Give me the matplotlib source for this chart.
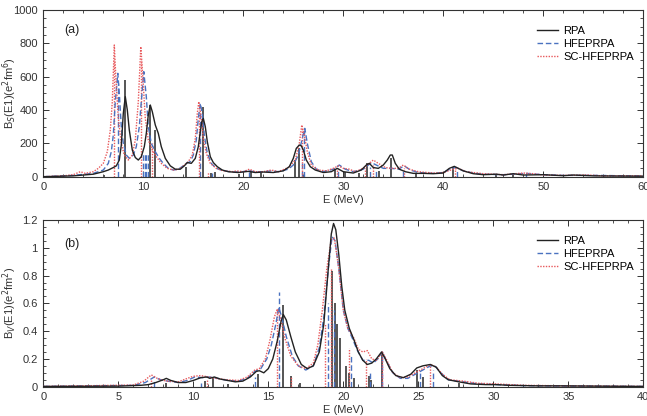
import matplotlib
matplotlib.use("Agg")
import matplotlib.pyplot as plt
from matplotlib.ticker import MultipleLocator, FuncFormatter

plt.rcParams['font.family'] = ['Liberation Sans', 'DejaVu Sans']

# ---------------- Panel (a): isoscalar ----------------
a_rpa_E = [0, 3, 5, 6, 6.5, 7, 7.3, 7.6, 7.8, 8.0,
           8.2, 8.4, 8.6, 8.9, 9.2, 9.5, 9.8, 10.1, 10.3, 10.5,
           10.7, 10.9, 11.2, 11.5, 11.8, 12.2, 12.7, 13.2, 13.7, 14.1,
           14.4, 14.8, 15.2, 15.5, 15.7, 15.85, 16.0, 16.2, 16.4, 16.7,
           17.0, 17.4, 17.9, 18.5, 19.5, 20.5, 21.2, 22, 23, 24,
           24.6, 25.0, 25.3, 25.6, 25.8, 26.0, 26.3, 26.7, 27.2, 28,
           28.8, 29.4, 30, 31, 31.8, 32.3, 32.6, 33.0, 33.5, 34.0,
           34.4, 34.7, 34.9, 35.2, 35.6, 36.2, 37, 38, 39, 40,
           40.6, 41.1, 41.5, 42, 43, 44, 45.3, 46, 47, 48,
           50, 52, 53, 55, 57, 60]
a_rpa_B = [0, 5, 15, 30, 40, 55, 65, 100, 190, 380,
           480, 400, 280, 160, 115, 100, 120, 180, 260, 370,
           430, 390, 310, 260, 180, 110, 65, 45, 45, 65,
           85, 80, 110, 180, 270, 330, 350, 300, 210, 120,
           85, 60, 40, 30, 25, 32, 25, 28, 25, 35,
           60, 110, 170, 190, 185, 160, 100, 60, 40, 25,
           30, 50, 30, 22, 40, 70, 80, 55, 50, 70,
           100, 130, 130, 80, 45, 30, 20, 20, 18, 22,
           50, 62, 50, 35, 18, 12, 15, 10, 18, 10,
           12, 6, 10, 5, 4, 3]

a_hfe_E = [0, 3, 5, 6, 6.5, 6.8, 7.0, 7.2, 7.45, 7.6,
           7.8, 8.0, 8.3, 8.6, 9.0, 9.3, 9.6, 9.8, 10.05, 10.3,
           10.5, 10.8, 11.2, 11.6, 12.0, 12.5, 13.0, 13.5, 14.0, 14.3,
           14.7, 15.0, 15.3, 15.5, 15.7, 15.9, 16.1, 16.4, 16.8, 17.3,
           18, 19, 20, 20.5, 21, 22, 22.8, 23.5, 24.5, 25,
           25.5, 25.9, 26.15, 26.4, 26.8, 27.3, 28, 29, 29.6, 30.2,
           31, 32, 32.8, 33.3, 34, 34.8, 35.5, 36.1, 36.7, 37.5,
           39, 40, 40.8, 41.3, 42, 43, 44, 46, 47, 48.3,
           50, 52, 55, 60]
a_hfe_B = [0, 8, 20, 40, 80, 150, 250, 450, 620, 500,
           300, 200, 130, 110, 130, 180, 300, 450, 630, 480,
           300, 200, 150, 110, 80, 50, 40, 45, 65, 80,
           90, 130, 220, 350, 440, 380, 250, 140, 80, 50,
           35, 28, 30, 40, 30, 30, 35, 30, 45, 70,
           130, 230, 290, 200, 90, 45, 30, 45, 70, 45,
           30, 45, 85, 70, 50, 50, 45, 65, 40, 25,
           20, 25, 50, 55, 35, 22, 15, 12, 15, 20,
           12, 8, 8, 4]

a_sc_E = [0, 2, 3, 3.7, 4.2, 5, 5.5, 6, 6.4, 6.7,
          6.9, 7.1, 7.25, 7.5, 7.8, 8.1, 8.5, 8.9, 9.2, 9.5,
          9.75, 9.95, 10.2, 10.5, 10.9, 11.3, 11.8, 12.4, 13, 13.6,
          14.1, 14.5, 14.9, 15.2, 15.4, 15.55, 15.8, 16.0, 16.3, 16.7,
          17.3, 18, 19, 19.3, 20, 20.6, 21.2, 22, 22.8, 23.5,
          24.5, 25.2, 25.6, 25.85, 26.1, 26.4, 26.8, 27.5, 28.3, 29,
          29.5, 30, 30.6, 31.2, 32, 33, 33.5, 34.2, 34.8, 35.5,
          36.0, 36.6, 37.5, 39, 40, 41, 41.5, 42.3, 43, 44,
          46, 48, 49, 50, 52, 54.5, 56, 60]
a_sc_B = [0, 5, 12, 30, 20, 30, 50, 80, 150, 280,
          450, 790, 600, 350, 200, 130, 100, 130, 220, 450,
          780, 600, 350, 220, 160, 120, 80, 50, 40, 45,
          70, 90, 130, 230, 380, 450, 350, 230, 140, 80,
          50, 35, 30, 35, 30, 45, 30, 30, 40, 30,
          55, 100, 200, 310, 250, 150, 70, 40, 35, 50,
          65, 50, 45, 30, 50, 100, 80, 55, 50, 50,
          70, 45, 30, 22, 25, 45, 50, 30, 25, 18,
          12, 22, 18, 10, 8, 10, 5, 5]

a_rpa_stick_E = [6.1, 8.15, 10.7, 11.2, 14.3, 15.95, 16.8, 17.2, 19.6, 20.8,
                 21.8, 25.2, 25.6, 29.2, 30.2, 31.6, 32.4, 33.6, 34.8, 37.3,
                 41.0, 45.3, 47.0]
a_rpa_stick_B = [10, 580, 430, 280, 60, 420, 25, 30, 15, 35,
                 25, 100, 170, 45, 30, 20, 80, 35, 110, 15,
                 60, 15, 15]
a_hfe_stick_E = [7.45, 10.0, 10.15, 10.3, 10.45, 15.7, 16.9, 20.6, 25.9, 26.1,
                 29.5, 32.7, 33.3, 36.0, 41.4, 48.3]
a_hfe_stick_B = [560, 150, 150, 150, 150, 400, 20, 30, 100, 280,
                 40, 60, 40, 40, 40, 15]
a_sc_stick_E = [7.1, 9.75, 10.9, 15.55, 16.5, 25.85, 29.4, 32.2, 33.0, 36.1, 41.2]
a_sc_stick_B = [700, 700, 200, 400, 30, 300, 50, 50, 70, 50, 40]

# ---------------- Panel (b): isovector ----------------
b_rpa_E = [0, 5, 6, 6.5, 7, 7.5, 8.0, 8.2, 8.5, 9,
           9.5, 10, 10.5, 10.9, 11.1, 11.4, 11.8, 12.3, 12.8, 13.3,
           13.8, 14.2, 14.4, 14.7, 15.0, 15.3, 15.6, 15.85, 16.0, 16.2,
           16.5, 16.8, 17.2, 17.6, 18.0, 18.4, 18.7, 19.0, 19.2, 19.35,
           19.5, 19.7, 19.9, 20.1, 20.4, 20.7, 21.0, 21.3, 21.6, 21.9,
           22.2, 22.55, 22.8, 23.1, 23.5, 24.0, 24.5, 24.9, 25.3, 25.8,
           26.2, 26.6, 27.0, 27.7, 28.5, 29.5, 30.2, 31, 33, 34.5,
           37, 40]
b_rpa_B = [0.002, 0.004, 0.008, 0.01, 0.015, 0.03, 0.05, 0.06, 0.045, 0.03,
           0.03, 0.045, 0.065, 0.07, 0.06, 0.07, 0.055, 0.045, 0.035, 0.04,
           0.07, 0.11, 0.115, 0.10, 0.13, 0.20, 0.33, 0.47, 0.52, 0.48,
           0.36, 0.25, 0.16, 0.13, 0.15, 0.25, 0.45, 0.85, 1.10, 1.175,
           1.13, 0.95, 0.72, 0.55, 0.42, 0.34, 0.25, 0.19, 0.16, 0.17,
           0.20, 0.25, 0.20, 0.13, 0.08, 0.065, 0.09, 0.135, 0.15, 0.16,
           0.14, 0.08, 0.05, 0.035, 0.02, 0.015, 0.015, 0.01, 0.006, 0.006,
           0.004, 0.002]

b_hfe_E = [0, 6, 6.8, 7.4, 7.8, 8.3, 9, 9.6, 10.1, 10.6,
           11.1, 11.6, 12.3, 13, 13.6, 14.1, 14.5, 14.9, 15.2, 15.5,
           15.7, 15.9, 16.2, 16.6, 17.0, 17.5, 18.0, 18.4, 18.7, 19.0,
           19.25, 19.45, 19.7, 20.0, 20.3, 20.6, 20.9, 21.3, 21.7, 22.0,
           22.3, 22.6, 22.9, 23.3, 23.8, 24.3, 24.8, 25.3, 25.8, 26.1,
           26.5, 27, 28, 29, 30.2, 32, 35, 40]
b_hfe_B = [0.002, 0.01, 0.03, 0.07, 0.05, 0.04, 0.03, 0.045, 0.07, 0.065,
           0.07, 0.06, 0.045, 0.04, 0.06, 0.11, 0.13, 0.20, 0.30, 0.45,
           0.57, 0.50, 0.36, 0.22, 0.15, 0.12, 0.15, 0.28, 0.50, 0.85,
           1.08, 1.05, 0.85, 0.55, 0.42, 0.35, 0.27, 0.19, 0.19, 0.17,
           0.20, 0.25, 0.18, 0.10, 0.06, 0.06, 0.09, 0.12, 0.15, 0.15,
           0.10, 0.05, 0.035, 0.02, 0.015, 0.008, 0.005, 0.002]

b_sc_E = [0, 6, 6.7, 7.2, 7.6, 8.2, 9, 9.6, 10.0, 10.5,
          11, 11.5, 12.2, 13, 13.6, 14.1, 14.4, 14.8, 15.1, 15.4,
          15.6, 15.8, 16.1, 16.5, 17.0, 17.5, 18.0, 18.3, 18.6, 18.9,
          19.2, 19.4, 19.7, 20.0, 20.3, 20.7, 21.0, 21.3, 21.6, 21.9,
          22.2, 22.6, 22.9, 23.3, 23.8, 24.3, 24.8, 25.3, 25.8, 26.2,
          26.6, 27.1, 28, 29, 30.2, 32, 35, 40]
b_sc_B = [0.002, 0.012, 0.04, 0.085, 0.06, 0.04, 0.035, 0.06, 0.075, 0.08,
          0.07, 0.06, 0.05, 0.045, 0.07, 0.12, 0.13, 0.20, 0.33, 0.50,
          0.56, 0.50, 0.35, 0.22, 0.15, 0.13, 0.17, 0.30, 0.55, 0.85,
          1.06, 1.07, 0.85, 0.55, 0.42, 0.35, 0.27, 0.25, 0.26, 0.20,
          0.19, 0.25, 0.19, 0.10, 0.065, 0.07, 0.10, 0.13, 0.16, 0.14,
          0.09, 0.05, 0.04, 0.025, 0.02, 0.01, 0.006, 0.002]

b_rpa_stick_E = [8.2, 10.8, 11.3, 12.3, 14.3, 16.0, 16.5, 17.1, 19.27, 19.45,
                 19.6, 19.75, 20.2, 20.4, 20.7, 21.7, 21.85, 22.6, 24.9, 25.3,
                 27.7]
b_rpa_stick_B = [0.03, 0.04, 0.06, 0.02, 0.09, 0.59, 0.08, 0.03, 0.83, 0.60,
                 0.45, 0.35, 0.15, 0.10, 0.06, 0.08, 0.05, 0.25, 0.12, 0.07,
                 0.03]
b_hfe_stick_E = [7.4, 10.5, 14.1, 15.7, 19.0, 19.35, 20.5, 21.8, 22.6, 25.1, 26.0]
b_hfe_stick_B = [0.04, 0.03, 0.07, 0.68, 0.60, 0.55, 0.22, 0.10, 0.25, 0.10, 0.12]
b_sc_stick_E = [7.2, 10.9, 15.55, 16.5, 18.8, 19.15, 20.4, 21.5, 22.6, 25.8]
b_sc_stick_B = [0.05, 0.05, 0.55, 0.08, 0.45, 0.85, 0.28, 0.20, 0.25, 0.16]

labels = ["RPA", "HFEPRPA", "SC-HFEPRPA"]

C_RPA = "#222222"
C_HFE = "#4a72c0"
C_SC = "#e8595c"
C_STK = "#555555"

W, H = 647, 416
fig = plt.figure(figsize=(W / 100, H / 100), dpi=100)
ax_a = fig.add_axes([43.3 / W, 1 - 176.7 / H, 600 / W, 166.7 / H])
ax_b = fig.add_axes([43.3 / W, 1 - 386.7 / H, 600 / W, 166.7 / H])

LABEL_X = -0.041


def draw(ax, curves, sticks):
    (rE, rB), (hE, hB), (sE, sB) = curves
    (rsE, rsB), (hsE, hsB), (ssE, ssB) = sticks
    ax.vlines(rsE, 0, rsB, colors=C_STK, lw=1.4, zorder=2)
    ax.vlines(hsE, 0, hsB, colors=C_HFE, lw=1.0, linestyles=(0, (4, 2)), zorder=2)
    ax.vlines(ssE, 0, ssB, colors=C_SC, lw=1.0, linestyles=(0, (1, 1)), zorder=2)
    ax.plot(rE, rB, color=C_RPA, lw=1.0, label=labels[0], zorder=4)
    ax.plot(hE, hB, color=C_HFE, lw=1.0, ls=(0, (4, 2)), label=labels[1], zorder=3)
    ax.plot(sE, sB, color=C_SC, lw=1.0, ls=(0, (1, 1)), label=labels[2], zorder=3)
    ax.tick_params(which='both', direction='in', top=True, right=True,
                   labelsize=8, colors='#333333', pad=4)
    ax.tick_params(which='major', length=4, width=0.7)
    ax.tick_params(which='minor', length=2.2, width=0.6)
    for sp in ax.spines.values():
        sp.set_linewidth(0.8)
        sp.set_color('#333333')
    ax.legend(loc='upper left', bbox_to_anchor=(0.815, 0.93), frameon=False,
              fontsize=8, handlelength=1.9, handletextpad=0.5,
              labelspacing=0.25, borderaxespad=0)
    ax.set_xlabel("E (MeV)", fontsize=8, labelpad=2, color='#333333')


draw(ax_a,
     [(a_rpa_E, a_rpa_B), (a_hfe_E, a_hfe_B), (a_sc_E, a_sc_B)],
     [(a_rpa_stick_E, a_rpa_stick_B), (a_hfe_stick_E, a_hfe_stick_B),
      (a_sc_stick_E, a_sc_stick_B)])
ax_a.set_xlim(0, 60)
ax_a.set_ylim(0, 1000)
ax_a.xaxis.set_major_locator(MultipleLocator(10))
ax_a.xaxis.set_minor_locator(MultipleLocator(2))
ax_a.yaxis.set_major_locator(MultipleLocator(200))
ax_a.yaxis.set_minor_locator(MultipleLocator(50))
ax_a.set_ylabel("B$_S$(E1)(e$^2$fm$^6$)", fontsize=8, color='#333333')
ax_a.yaxis.set_label_coords(LABEL_X, 0.5)
ax_a.text(0.035, 0.86, "(a)", transform=ax_a.transAxes, fontsize=9, color='#222222')

draw(ax_b,
     [(b_rpa_E, b_rpa_B), (b_hfe_E, b_hfe_B), (b_sc_E, b_sc_B)],
     [(b_rpa_stick_E, b_rpa_stick_B), (b_hfe_stick_E, b_hfe_stick_B),
      (b_sc_stick_E, b_sc_stick_B)])
ax_b.set_xlim(0, 40)
ax_b.set_ylim(0, 1.2)
ax_b.xaxis.set_major_locator(MultipleLocator(5))
ax_b.xaxis.set_minor_locator(MultipleLocator(1))
ax_b.yaxis.set_major_locator(MultipleLocator(0.2))
ax_b.yaxis.set_minor_locator(MultipleLocator(0.05))
ax_b.yaxis.set_major_formatter(FuncFormatter(lambda v, p: "%g" % round(v, 2)))
ax_b.set_ylabel("B$_V$(E1)(e$^2$fm$^2$)", fontsize=8, color='#333333')
ax_b.yaxis.set_label_coords(LABEL_X, 0.5)
ax_b.text(0.035, 0.84, "(b)", transform=ax_b.transAxes, fontsize=9, color='#222222')

fig.savefig("out.png", dpi=100)
